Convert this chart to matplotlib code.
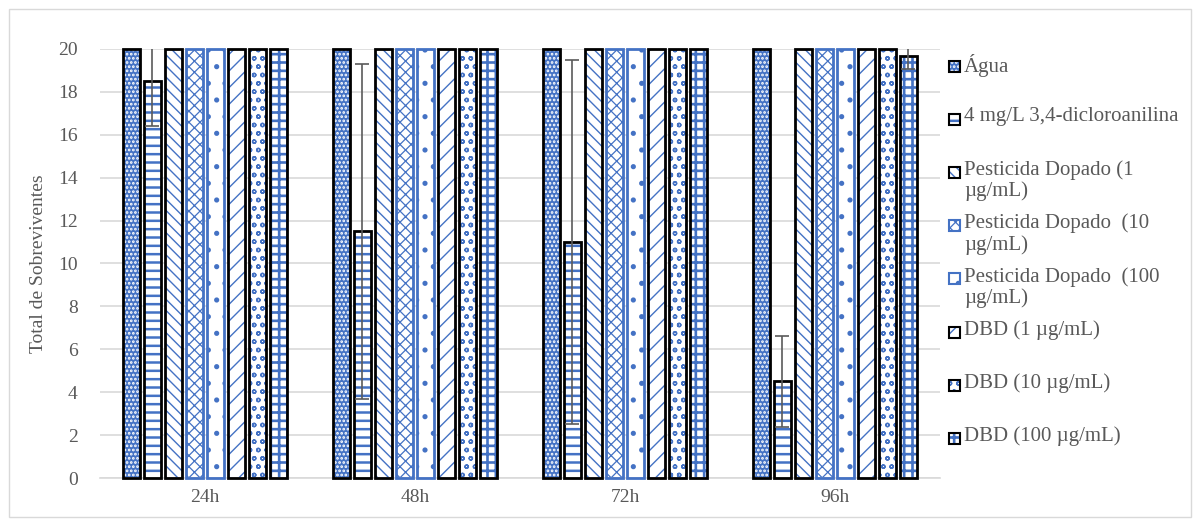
import numpy as np
import matplotlib.pyplot as plt
from matplotlib.patches import Rectangle

plt.rcParams.update({
    'font.family': ['Liberation Serif', 'DejaVu Serif'],
    'hatch.linewidth': 1.3,
})

# --------------------------------------------------------------------------
# Data
# --------------------------------------------------------------------------
times = ['24h', '48h', '72h', '96h']
series = ['Água', '4 mg/L 3,4-dicloroanilina', 'Pesticida Dopado (1\nµg/mL)',
          'Pesticida Dopado  (10\nµg/mL)', 'Pesticida Dopado  (100\nµg/mL)',
          'DBD (1 µg/mL)', 'DBD (10 µg/mL)', 'DBD (100 µg/mL)']
agua      = [20, 20, 20, 20]
dcA       = [18.5, 11.5, 11.0, 4.5]
dcA_err   = [2.1, 7.8, 8.5, 2.1]
pest1     = [20, 20, 20, 20]
pest10    = [20, 20, 20, 20]
pest100   = [20, 20, 20, 20]
dbd1      = [20, 20, 20, 20]
dbd10     = [20, 20, 20, 20]
dbd100    = [20, 20, 20, 19.67]
dbd100_err = [0, 0, 0, 0.6]

values = [agua, dcA, pest1, pest10, pest100, dbd1, dbd10, dbd100]
errors = [None, dcA_err, None, None, None, None, None, dbd100_err]

BLUE = '#4472C4'
GRAY = '#595959'
# (face, hatch, hatch colour, outline, hatch linewidth)
styles = [
    (BLUE,    '....',     'white', 'black', 1.3),
    ('white', '--',       BLUE,    'black', 1.8),
    ('white', '\\\\\\',   BLUE,    'black', 1.0),
    ('white', 'xxx',      BLUE,    BLUE,    0.9),
    ('white', '.',        BLUE,    BLUE,    1.3),
    ('white', '//',       BLUE,    'black', 1.0),
    ('white', 'oo',       BLUE,    'black', 1.0),
    ('white', '++',       BLUE,    'black', 1.9),
]

fig = plt.figure(figsize=(12, 5.25), dpi=100)
ax = fig.add_axes([0.0833, 0.0895, 0.70, 0.8172])

x = np.arange(len(times))
step = 0.1
width = 0.082
for i, (vals, err, st) in enumerate(zip(values, errors, styles)):
    face, hatch, hcol, outline, hlw = st
    xs = x + (i - 3.5) * step
    with plt.rc_context({'hatch.linewidth': hlw}):
        ax.bar(xs, vals, width, color=face, edgecolor=hcol, hatch=hatch,
               linewidth=0, zorder=2, clip_on=False)
    ax.bar(xs, vals, width, fill=False, edgecolor=outline, linewidth=2,
           zorder=3, clip_on=False)
    if err is not None:
        e = np.array(err)
        m = e > 0
        ax.errorbar(xs[m], np.array(vals)[m], yerr=e[m], fmt='none',
                    ecolor='#5A5A5A', elinewidth=1.2, capsize=5, capthick=1.2,
                    zorder=4)

ax.set_xlim(-0.5, 3.5)
ax.set_ylim(0, 20)
ax.set_yticks(range(0, 21, 2))
ax.set_xticks(x)
ax.set_xticklabels(times)
ax.grid(axis='y', color='#D9D9D9', lw=1.2, zorder=0)
ax.set_axisbelow(True)
for s in ['top', 'right', 'left']:
    ax.spines[s].set_visible(False)
ax.spines['bottom'].set_color('#D9D9D9')
ax.spines['bottom'].set_linewidth(1.2)
ax.tick_params(length=0, labelsize=14, labelcolor=GRAY, pad=8)
ax.tick_params(axis='y', pad=16)
ax.set_ylabel('Total de Sobreviventes', fontsize=14, color=GRAY, labelpad=8)

# legend drawn by hand (Excel-like layout)
W, H = 1200, 525
for i, (lab, st) in enumerate(zip(series, styles)):
    face, hatch, hcol, outline, hlw = st
    yc = 66 + i * 53.2
    x0, sz = 949, 11
    with plt.rc_context({'hatch.linewidth': hlw}):
        fig.add_artist(Rectangle((x0 / W, 1 - (yc + sz / 2) / H), sz / W,
                                 sz / H, transform=fig.transFigure,
                                 facecolor=face, edgecolor=hcol, hatch=hatch,
                                 linewidth=0))
    fig.add_artist(Rectangle((x0 / W, 1 - (yc + sz / 2) / H), sz / W, sz / H,
                             transform=fig.transFigure, fill=False,
                             edgecolor=outline, linewidth=1.5))
    fig.text(964 / W, 1 - (yc - 12) / H, lab, fontsize=15, color=GRAY,
             va='top', ha='left', linespacing=1.1)

# chart border
fig.add_artist(Rectangle((9 / W, 8 / H), 1182 / W, 508 / H,
                         transform=fig.transFigure, fill=False,
                         edgecolor='#D9D9D9', linewidth=1))

fig.savefig('out.png', dpi=100)
